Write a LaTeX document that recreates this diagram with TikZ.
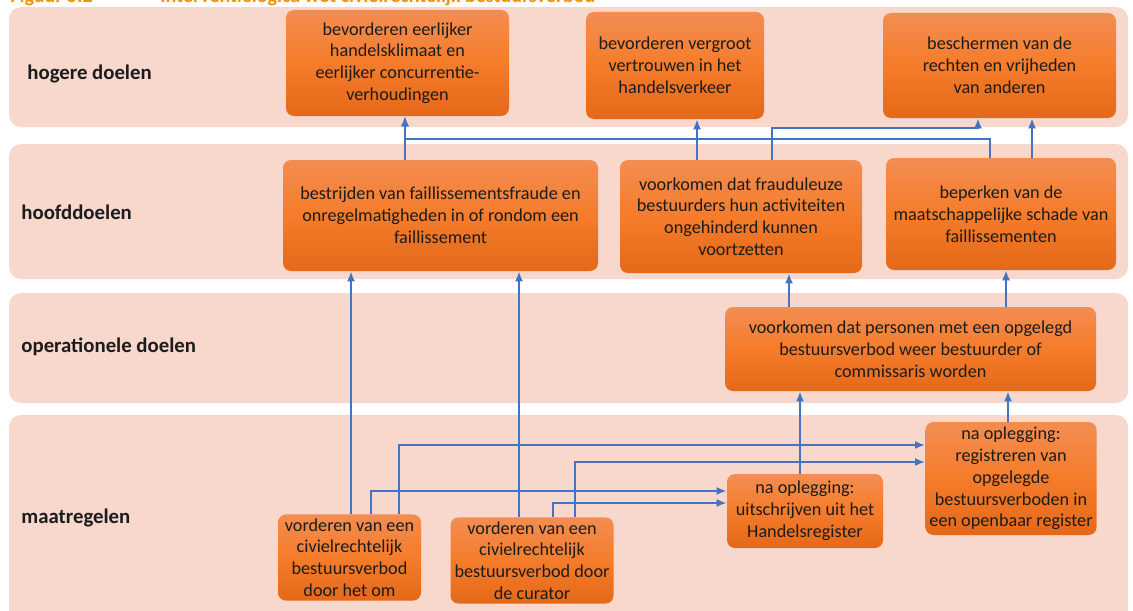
\documentclass[tikz,border=0pt]{standalone}
\usepackage{fontspec}
\setmainfont{Carlito}
\usetikzlibrary{arrows.meta}
\definecolor{bandpink}{RGB}{248,215,204}
\definecolor{boxtop}{RGB}{243,141,82}
\definecolor{boxmid}{RGB}{245,124,42}
\definecolor{boxbot}{RGB}{228,104,24}
\definecolor{linkblue}{RGB}{68,114,196}
\definecolor{titleorange}{RGB}{242,148,0}
\definecolor{ink}{RGB}{28,28,28}
\tikzset{
  band/.style  = {fill=bandpink, rounded corners=6pt},
  level/.style = {anchor=west, text=ink, inner sep=0pt,
                  font=\bfseries\fontsize{10.4}{12}\selectfont},
  goal/.style  = {shape=rectangle, rounded corners=4pt, align=center,
                  inner sep=2pt, text=ink,
                  top color=boxtop, bottom color=boxbot, middle color=boxmid,
                  font=\fontsize{9.1}{10.9}\selectfont},
  link/.style  = {draw=linkblue, line width=0.9pt, -{Latex[length=5pt,width=4pt]}},
}

\begin{document}
\begin{tikzpicture}[x=0.5pt, y=-0.5pt]
  \useasboundingbox (0,0) rectangle (1133,610);

  % title (cut off at the top)
  \node [anchor=base west, text=titleorange, inner sep=0pt,
         font=\bfseries\fontsize{10}{12}\selectfont] (fig) at (10,2.5) {Figuur 5.2};
  \node [anchor=base west, text=titleorange, inner sep=0pt,
         font=\bfseries\fontsize{10}{12}\selectfont] (title) at (160,2.5)
        {Interventielogica wet civielrechtelijk bestuursverbod};

  % bands
  \fill [band] (9,7)   rectangle (1128,127);
  \fill [band] (9,144) rectangle (1128,279);
  \fill [band] (9,293) rectangle (1128,403);
  \fill [band] (9,415) rectangle (1128,640);

  \node [level] (lvHogere) at (27,74)  {hogere doelen};
  \node [level] (lvHoofd)  at (21,212) {hoofddoelen};
  \node [level] (lvOper)   at (21,347) {operationele doelen};
  \node [level] (lvMaat)   at (21,518) {maatregelen};

  % hogere doelen
  \node [goal, minimum width=111.5pt, minimum height=53pt] (A1) at (397.5,63)
    {bevorderen eerlijker\\handelsklimaat en\\eerlijker concurrentie-\\verhoudingen};
  \node [goal, minimum width=89pt, minimum height=53.5pt] (A2) at (675,65.5)
    {bevorderen vergroot\\vertrouwen in het\\handelsverkeer};
  \node [goal, minimum width=116.5pt, minimum height=52.5pt] (A3) at (999.5,65.5)
    {beschermen van de\\rechten en vrijheden\\van anderen};

  % hoofddoelen
  \node [goal, minimum width=157.5pt, minimum height=55.5pt] (B1) at (440.5,215.5)
    {bestrijden van faillissementsfraude en\\onregelmatigheden in of rondom een\\faillissement};
  \node [goal, minimum width=121pt, minimum height=56.5pt] (B2) at (741,216.5)
    {voorkomen dat frauduleuze\\bestuurders hun activiteiten\\ongehinderd kunnen\\voortzetten};
  \node [goal, minimum width=115pt, minimum height=56pt] (B3) at (1001,214)
    {beperken van de\\maatschappelijke schade van\\faillissementen};

  % operationele doelen
  \node [goal, minimum width=185.5pt, minimum height=42pt] (C1) at (910.5,349)
    {voorkomen dat personen met een opgelegd\\bestuursverbod weer bestuurder of\\commissaris worden};

  % maatregelen
  \node [goal, minimum width=71.5pt, minimum height=42.5pt] (D1) at (349.5,557.5)
    {vorderen van een\\civielrechtelijk\\bestuursverbod\\door het om};
  \node [goal, minimum width=78pt, minimum height=42.5pt] (D2) at (532,560.5)
    {vorderen van een\\civielrechtelijk\\bestuursverbod door\\de curator};
  \node [goal, minimum width=78pt, minimum height=37pt] (D3) at (805,511)
    {na oplegging:\\uitschrijven uit het\\Handelsregister};
  \node [goal, minimum width=85pt, minimum height=56.5pt] (D4) at (1011,478.5)
    {na oplegging:\\registreren van\\opgelegde\\bestuursverboden in\\een openbaar register};

  % connectors
  \draw [link] (405,0 |- B1.north) -- (405,0 |- A1.south);
  \draw [link] (990,0 |- B3.north) |- (405,139) -- (405,0 |- A1.south);
  \draw [link] (697,0 |- B2.north) -- (697,0 |- A2.south);
  \draw [link] (772,0 |- B2.north) |- (978,128) -- (978,0 |- A3.south);
  \draw [link] (1032,0 |- B3.north) -- (1032,0 |- A3.south);

  \draw [link] (789,0 |- C1.north) -- (789,0 |- B2.south);
  \draw [link] (1006,0 |- C1.north) -- (1006,0 |- B3.south);

  \draw [link] (351,0 |- D1.north) -- (351,0 |- B1.south);
  \draw [link] (519,0 |- D2.north) -- (519,0 |- B1.south);
  \draw [link] (800,0 |- D3.north) -- (800,0 |- C1.south);
  \draw [link] (1008,0 |- D4.north) -- (1008,0 |- C1.south);

  \draw [link] (399,0 |- D1.north) |- (D4.west |- 0,445);
  \draw [link] (371,0 |- D1.north) |- (D3.west |- 0,491);
  \draw [link] (575,0 |- D2.north) |- (D4.west |- 0,462);
  \draw [link] (553,0 |- D2.north) |- (D3.west |- 0,503);
\end{tikzpicture}
\end{document}
